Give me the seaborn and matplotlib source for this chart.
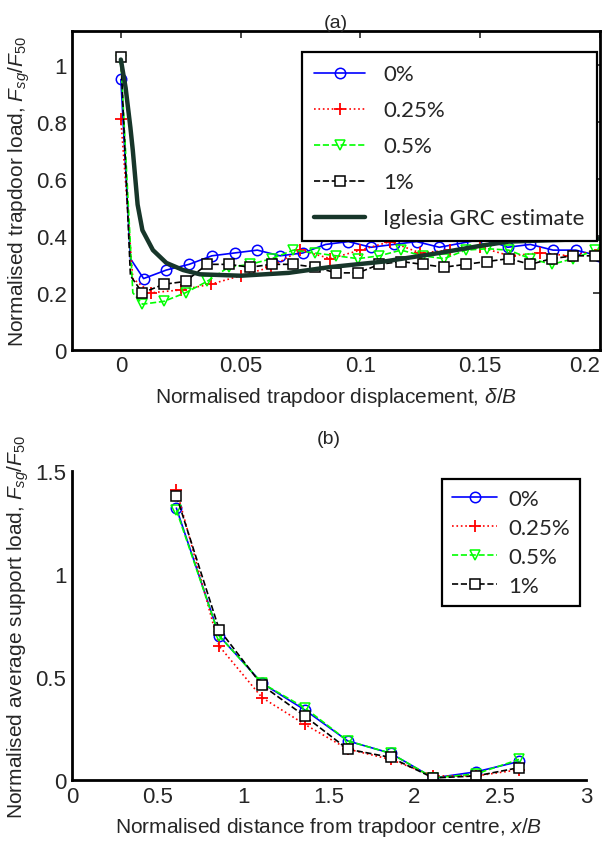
import numpy as np
import matplotlib
matplotlib.use("Agg")
import matplotlib.pyplot as plt
import seaborn as sns

# ---- panel (a): trapdoor load vs displacement ----
a_x_0 = [0, 0.004, 0.0095, 0.019, 0.0285, 0.038, 0.0475, 0.057, 0.0665, 0.076, 0.0855, 0.095,
         0.1045, 0.114, 0.1235, 0.133, 0.1425, 0.152, 0.1615, 0.171, 0.1805, 0.19, 0.1995]
a_y_0 = [0.95, 0.32, 0.25, 0.28, 0.30, 0.33, 0.34, 0.35, 0.33, 0.34, 0.37, 0.38,
         0.36, 0.37, 0.38, 0.36, 0.375, 0.39, 0.36, 0.37, 0.35, 0.35, 0.33]

a_x_025 = [0, 0.005, 0.0125, 0.025, 0.0375, 0.05, 0.0625, 0.075, 0.0875, 0.1, 0.1125, 0.125,
           0.1375, 0.15, 0.1625, 0.175, 0.1875, 0.2]
a_y_025 = [0.81, 0.25, 0.20, 0.21, 0.23, 0.26, 0.29, 0.35, 0.32, 0.35, 0.38, 0.34,
           0.35, 0.36, 0.33, 0.34, 0.33, 0.35]

a_x_05 = [0, 0.005, 0.009, 0.018, 0.027, 0.036, 0.045, 0.054, 0.063, 0.072, 0.081, 0.09,
          0.099, 0.108, 0.117, 0.126, 0.135, 0.144, 0.153, 0.162, 0.171, 0.18, 0.189, 0.198]
a_y_05 = [1.02, 0.20, 0.16, 0.17, 0.20, 0.24, 0.29, 0.30, 0.32, 0.35, 0.34, 0.33,
          0.32, 0.33, 0.35, 0.33, 0.32, 0.35, 0.355, 0.35, 0.32, 0.30, 0.32, 0.35]

a_x_1 = [0, 0.004, 0.009, 0.018, 0.027, 0.036, 0.045, 0.054, 0.063, 0.072, 0.081, 0.09,
         0.099, 0.108, 0.117, 0.126, 0.135, 0.144, 0.153, 0.162, 0.171, 0.18, 0.189, 0.198]
a_y_1 = [1.03, 0.26, 0.20, 0.23, 0.24, 0.30, 0.30, 0.29, 0.30, 0.30, 0.29, 0.27,
         0.27, 0.30, 0.31, 0.30, 0.29, 0.30, 0.31, 0.32, 0.30, 0.32, 0.33, 0.33]

grc_x = [0, 0.002, 0.004, 0.005, 0.007, 0.009, 0.0134, 0.019, 0.026, 0.033, 0.05, 0.07,
         0.087, 0.11, 0.133, 0.15, 0.162, 0.18, 0.2]
grc_y = [1.02, 0.92, 0.78, 0.70, 0.51, 0.42, 0.35, 0.305, 0.28, 0.265, 0.26, 0.27,
         0.29, 0.31, 0.34, 0.365, 0.38, 0.385, 0.39]

# ---- panel (b): average support load vs distance ----
b_x = [0.61, 0.86, 1.11, 1.36, 1.61, 1.86, 2.11, 2.36, 2.61]
b_y_0 = [1.32, 0.70, 0.47, 0.34, 0.19, 0.13, 0.01, 0.04, 0.09]
b_y_025 = [1.41, 0.65, 0.40, 0.27, 0.15, 0.10, 0.02, 0.02, 0.05]
b_y_05 = [1.31, 0.70, 0.47, 0.35, 0.19, 0.13, 0.01, 0.03, 0.10]
b_y_1 = [1.38, 0.73, 0.46, 0.31, 0.15, 0.11, 0.01, 0.02, 0.06]

labels = ["0%", "0.25%", "0.5%", "1%"]

sns.set_theme(style="white")
plt.rcParams["font.family"] = ["Liberation Sans", "DejaVu Sans"]
plt.rcParams["mathtext.fontset"] = "custom"
plt.rcParams["mathtext.rm"] = "Liberation Sans"
plt.rcParams["mathtext.it"] = "Liberation Sans:italic"
plt.rcParams["axes.edgecolor"] = "black"
plt.rcParams["axes.linewidth"] = 2
plt.rcParams["xtick.direction"] = "in"
plt.rcParams["ytick.direction"] = "in"

fig = plt.figure(figsize=(6.04, 8.45), dpi=100)
ax1 = fig.add_axes([0.120, 0.585, 0.873, 0.377])
ax2 = fig.add_axes([0.119, 0.0757, 0.851, 0.3657])

styles = [
    dict(color="#0000ff", marker="o", linestyle="-", mfc="none", mec="#0000ff"),
    dict(color="#ff0000", marker="+", linestyle=":", mfc="none", mec="#ff0000", ms=9, mew=1.3),
    dict(color="#00ff00", marker="v", linestyle="--", mfc="none", mec="#00ff00"),
    dict(color="black", marker="s", linestyle="--", mfc="white", mec="black", dashes=(7, 3)),
]

series_a = [(a_x_0, a_y_0), (a_x_025, a_y_025), (a_x_05, a_y_05), (a_x_1, a_y_1)]
for (xs, ys), lab, st in zip(series_a, labels, styles):
    kw = dict(ms=7.5, mew=1.1, lw=1.2)
    kw.update(st)
    idx = [i for i in range(len(xs)) if i != 1]
    sns.lineplot(x=xs, y=ys, ax=ax1, label=lab, markevery=idx, sort=False,
                 estimator=None, **kw)
sns.lineplot(x=grc_x, y=grc_y, ax=ax1, color="#17362a", lw=3.2, sort=False,
             estimator=None, label="Iglesia GRC estimate")

ax1.set_xlim(-0.0202, 0.2)
ax1.set_ylim(0, 1.12)
ax1.set_xticks([0, 0.05, 0.1, 0.15, 0.2])
ax1.set_xticklabels(["0", "0.05", "0.1", "0.15", "0.2"])
ax1.get_xticklabels()[-1].set_horizontalalignment("right")
ax1.set_yticks([0, 0.2, 0.4, 0.6, 0.8, 1])
ax1.set_yticklabels(["0", "0.2", "0.4", "0.6", "0.8", "1"])
ax1.tick_params(axis="both", which="both", top=True, right=True, length=5, width=1.2,
                labelsize=16, pad=4)
ax1.set_xlabel(r"Normalised trapdoor displacement, $\delta/B$", fontsize=15, labelpad=6)
ax1.set_ylabel(r"Normalised trapdoor load, $F_{sg}/F_{50}$", fontsize=15, labelpad=3)
ax1.set_title("(a)", fontsize=14, pad=3)
leg1 = ax1.legend(loc="upper right", bbox_to_anchor=(0.994, 0.934), borderaxespad=0,
                  fancybox=False, edgecolor="black", framealpha=1, handlelength=2.3,
                  labelspacing=0.72, borderpad=0.55, handletextpad=0.8,
                  prop={"family": "Lato", "size": 16})
leg1.get_frame().set_linewidth(1.6)

series_b = [b_y_0, b_y_025, b_y_05, b_y_1]
for ys, lab, st in zip(series_b, labels, styles):
    kw = dict(ms=7.5, mew=1.1, lw=1.2)
    kw.update(st)
    sns.lineplot(x=b_x, y=ys, ax=ax2, label=lab, sort=False, estimator=None, **kw)

ax2.set_xlim(0, 3)
ax2.set_ylim(0, 1.5)
ax2.set_xticks([0, 0.5, 1, 1.5, 2, 2.5, 3])
ax2.set_xticklabels(["0", "0.5", "1", "1.5", "2", "2.5", "3"])
ax2.set_yticks([0, 0.5, 1, 1.5])
ax2.set_yticklabels(["0", "0.5", "1", "1.5"])
ax2.spines["top"].set_visible(False)
ax2.spines["right"].set_visible(False)
ax2.tick_params(axis="both", length=5, width=1.2, labelsize=16, pad=4)
ax2.set_xlabel(r"Normalised distance from trapdoor centre, $x/B$", fontsize=15, labelpad=6)
ax2.set_ylabel(r"Normalised average support load, $F_{sg}/F_{50}$", fontsize=15, labelpad=3)
ax2.set_title("(b)", fontsize=14, pad=20)
leg2 = ax2.legend(loc="upper right", bbox_to_anchor=(0.988, 0.974), borderaxespad=0,
                  fancybox=False, edgecolor="black", framealpha=1, handlelength=2.0,
                  labelspacing=0.4, borderpad=0.45, handletextpad=0.5,
                  prop={"family": "Lato", "size": 16})
leg2.get_frame().set_linewidth(1.6)

fig.savefig("out.png", dpi=100)
